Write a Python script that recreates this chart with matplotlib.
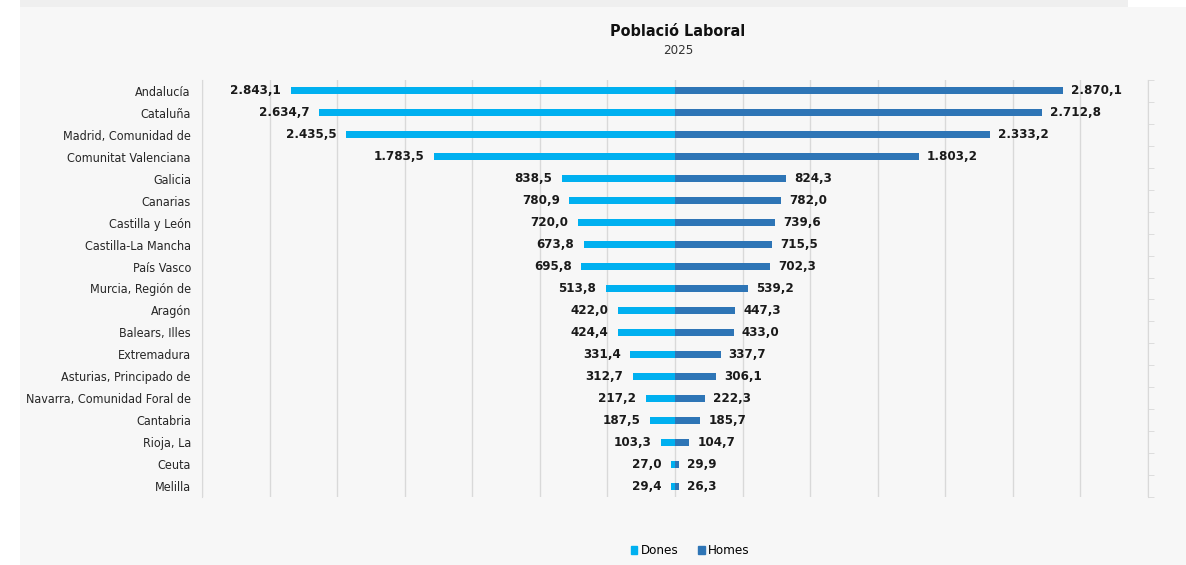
import matplotlib
matplotlib.use("Agg")
import matplotlib.pyplot as plt
from matplotlib.patches import Rectangle, Patch
from matplotlib.font_manager import FontProperties
import numpy as np

categories = ["Andalucía", "Cataluña", "Madrid, Comunidad de", "Comunitat Valenciana", "Galicia",
              "Canarias", "Castilla y León", "Castilla-La Mancha", "País Vasco", "Murcia, Región de",
              "Aragón", "Balears, Illes", "Extremadura", "Asturias, Principado de",
              "Navarra, Comunidad Foral de", "Cantabria", "Rioja, La", "Ceuta", "Melilla"]
dones = [2843.1, 2634.7, 2435.5, 1783.5, 838.5, 780.9, 720.0, 673.8, 695.8, 513.8,
         422.0, 424.4, 331.4, 312.7, 217.2, 187.5, 103.3, 27.0, 29.4]
homes = [2870.1, 2712.8, 2333.2, 1803.2, 824.3, 782.0, 739.6, 715.5, 702.3, 539.2,
         447.3, 433.0, 337.7, 306.1, 222.3, 185.7, 104.7, 29.9, 26.3]

C_DONES = "#00b0f0"
C_HOMES = "#2e75b6"

def fp(size, weight="normal"):
    return FontProperties(family="DejaVu Sans", stretch="condensed", size=size, weight=weight)

def fmt(v):
    s = f"{v:,.1f}"
    return s.replace(",", "X").replace(".", ",").replace("X", ".")

W, H = 1186, 565
fig = plt.figure(figsize=(W / 100, H / 100), dpi=100, facecolor="white")
fig.patches.append(Rectangle((20 / W, 0), 1 - 20 / W, 1 - 7 / H, transform=fig.transFigure,
                             facecolor="#f7f7f7", edgecolor="none", zorder=-10))
fig.patches.append(Rectangle((20 / W, 1 - 7 / H), (1128 - 20) / W, 7 / H, transform=fig.transFigure,
                             facecolor="#efefef", edgecolor="none", zorder=-10))

ax = fig.add_axes([202 / W, 1 - 497 / H, (1148 - 202) / W, (497 - 80) / H])
ax.set_facecolor("none")

y = np.arange(len(categories))
bh = 0.32
ax.barh(y, [-d for d in dones], height=bh, color=C_DONES, zorder=3)
ax.barh(y, homes, height=bh, color=C_HOMES, zorder=3)

for yi, d, h in zip(y, dones, homes):
    ax.text(-d - 70, yi, fmt(d), ha="right", va="center", fontproperties=fp(9.5, "bold"),
            color="#1a1a1a")
    ax.text(h + 60, yi, fmt(h), ha="left", va="center", fontproperties=fp(9.5, "bold"),
            color="#1a1a1a")

ax.set_xlim(-3500, 3500)
ax.set_ylim(len(categories) - 0.5, -0.5)
ax.set_xticks(np.arange(-3500, 3501, 500))
ax.xaxis.grid(True, color="#d9d9d9", linewidth=1, zorder=0)
ax.tick_params(axis="x", bottom=False, labelbottom=False)
ax.set_yticks(y)
ax.set_yticklabels(categories, color="#262626")
for lab in ax.get_yticklabels():
    lab.set_fontproperties(fp(9))
ax.tick_params(axis="y", which="major", left=False, pad=4.5)
ax.set_yticks(np.arange(-0.5, len(categories), 1), minor=True)
ax.tick_params(axis="y", which="minor", left=False, right=True, direction="out",
               length=4, color="#d9d9d9")
for s in ["top", "bottom"]:
    ax.spines[s].set_visible(False)
for s in ["left", "right"]:
    ax.spines[s].set_color("#d9d9d9")

fig.text(678 / W, 1 - 31 / H, "Població Laboral", ha="center", va="center",
         fontproperties=fp(11.5, "bold"), color="#111111")
fig.text(678 / W, 1 - 51 / H, "2025", ha="center", va="center",
         fontproperties=fp(9.5), color="#333333")

handles = [Patch(color=C_DONES, label="Dones"), Patch(color=C_HOMES, label="Homes")]
leg = fig.legend(handles=handles, loc="center", bbox_to_anchor=(690 / W, 1 - 551 / H), ncol=2,
                 frameon=False, prop=fp(9.5), handlelength=0.5,
                 handleheight=0.6, handletextpad=0.25, columnspacing=1.5)

fig.savefig("out.png", dpi=100, facecolor=fig.get_facecolor())
